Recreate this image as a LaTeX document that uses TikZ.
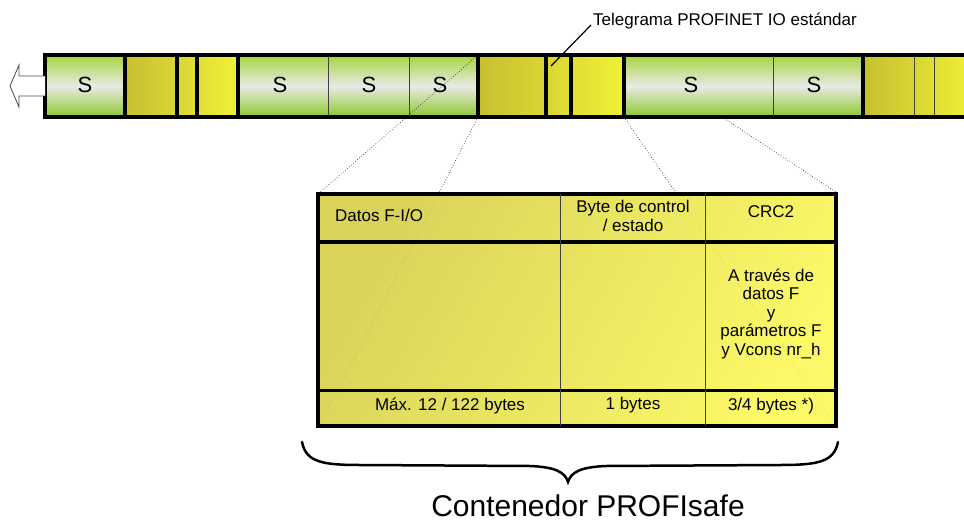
\documentclass[tikz,border=0pt]{standalone}
\usepackage{fontspec}
\setmainfont{Liberation Sans}
\definecolor{olive}{RGB}{198,192,48}
\definecolor{brightY}{RGB}{240,240,55}
\definecolor{gtop}{RGB}{165,212,60}
\definecolor{gmid}{RGB}{232,234,230}
\definecolor{gbot}{RGB}{140,200,45}
\definecolor{boxA}{RGB}{212,205,68}
\definecolor{boxB}{RGB}{250,248,82}
\tikzset{
 seglabel/.style={font=\fontsize{22}{22}\selectfont, inner sep=0pt},
 boxtext/.style={font=\fontsize{17}{18.5}\selectfont, inner sep=0pt, align=center},
 thickline/.style={line width=3.5pt},
 thinline/.style={line width=0.7pt, draw=black!75},
 zoomline/.style={dotted, line width=0.7pt, draw=black!80},
 greenseg/.style={top color=gtop, bottom color=gbot, middle color=gmid},
 yellowseg/.style={left color=olive, right color=brightY},
}
\begin{document}
\begin{tikzpicture}[x=1pt,y=-1pt]
\useasboundingbox (0,0) rectangle (964,524);
% ---- bar fills
\shade[greenseg] (45,55) rectangle (125,117);
\shade[yellowseg] (125,55) rectangle (238,117);
\shade[greenseg] (238,55) rectangle (478,117);
\shade[yellowseg] (478,55) rectangle (624,117);
\shade[greenseg] (624,55) rectangle (863,117);
\shade[yellowseg] (863,55) rectangle (975,117);
% ---- coordinates
\coordinate (sTR) at (478,55);
\coordinate (yBL) at (478,117);
\coordinate (gBL) at (624,117);
\coordinate (gM) at (722,117);
\coordinate (bTL) at (318,194);
\coordinate (bBL) at (319,426);
\coordinate (bTR) at (836,192);
\coordinate (bBR) at (836,426);
% ---- zoom lines
\draw[zoomline] (sTR) -- (bTL);
\draw[zoomline] (yBL) -- (bBL);
\draw[zoomline] (gBL) -- (bBR);
\draw[zoomline] (gM) -- (bTR);
% ---- bar borders
\draw[thickline] (975,55) -- (45,55) -- (45,117) -- (975,117);
\foreach \x in {125,177,197,238,478,546,571,624,863}
  \draw[thickline] (\x,55) -- (\x,117);
\foreach \x in {328,409,773,914,934}
  \draw[thinline] (\x,56) -- (\x,116);
% ---- S labels
\node[seglabel] (s1) at (85,85) {S};
\node[seglabel] (s2) at (280,85) {S};
\node[seglabel] (s3) at (369,85) {S};
\node[seglabel] (s4) at (440,85) {S};
\node[seglabel] (s5) at (691,85) {S};
\node[seglabel] (s6) at (814,85) {S};
% ---- left arrow
\draw[draw=black!70, fill=white, line width=0.8pt, line join=miter]
  (45,76) -- (19,76) -- (19,65) -- (10,86) -- (19,107) -- (19,96) -- (45,96);
% ---- telegram label
\node[font=\fontsize{17}{17}\selectfont, anchor=base west, inner sep=0pt] (tele) at (593,26) {Telegrama PROFINET IO estándar};
\coordinate (teleP) at (551,66);
\draw[line width=1.2pt] (teleP) -- ([shift={(-2,-1)}]tele.base west);
% ---- PROFIsafe container
\shade[left color=boxA, right color=boxB, shading angle=60, fill opacity=0.88] (318,194) rectangle (836,426);
\draw[thickline] (318,194) rectangle (836,426);
\draw[thickline] (318,242) -- (836,242);
\draw[line width=3pt] (318,390) -- (836,390);
\draw[thinline] (560,194) -- (560,426);
\draw[thinline] (705,194) -- (705,426);
\node[boxtext, anchor=west] (datos) at (335,215) {Datos F-I/O};
\node[boxtext] (byte) at (633,216) {Byte de control\\/ estado};
\node[boxtext] (crc) at (771,212) {CRC2};
\node[boxtext] (via) at (771,314) {A través de\\datos F\\y\\parámetros F\\y Vcons nr\_h};
\node[boxtext] (max) at (450,406) {Máx. 12 / 122 bytes};
\node[boxtext] (one) at (633,405) {1 bytes};
\node[boxtext] (crcsize) at (771,406) {3/4 bytes *)};
% ---- brace
\draw[line width=2.5pt, line cap=round]
  (302,442) .. controls (306,462) and (322,465) .. (360,465) -- (530,466)
  .. controls (555,467) and (565,472) .. (568,482)
  .. controls (571,472) and (581,467) .. (606,466) -- (780,465)
  .. controls (818,465) and (834,462) .. (838,442);
\node[font=\fontsize{30}{30}\selectfont, inner sep=0pt, anchor=base] (cont) at (588,516) {Contenedor PROFIsafe};
\end{tikzpicture}
\end{document}
